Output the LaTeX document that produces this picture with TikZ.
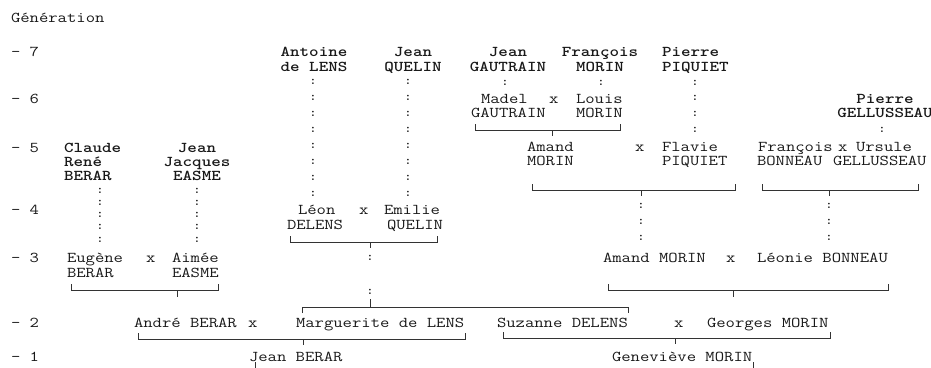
\documentclass[tikz,border=0pt]{standalone}
\usepackage{graphicx}
\newcommand\tw[1]{\scalebox{1.21}[1]{#1}}
\begin{document}
\begin{tikzpicture}[x=1pt,y=-1pt,
  t/.style={inner sep=0pt, outer sep=0pt, text=black!90, font=\fontsize{15}{15}\selectfont\ttfamily},
  tb/.style={t, font=\fontsize{15}{15}\selectfont\ttfamily\bfseries},
  dt/.style={inner sep=0pt, outer sep=0pt, text=black, font=\fontsize{12}{12}\selectfont\ttfamily\bfseries, anchor=center},
  L/.style={anchor=base west, yshift=-4.5pt},
  C/.style={anchor=base, yshift=-4.5pt},
  br/.style={draw=black!80, line width=0.9pt}]
\useasboundingbox (0,0) rectangle (931,367);
% generation labels
\node[t,L] (gen) at (11,18) {\tw{Génération}};
\node[t,L] (g7) at (11,52) {\tw{-~7}};
\node[t,L] (g6) at (11,99) {\tw{-~6}};
\node[t,L] (g5) at (11,148) {\tw{-~5}};
\node[t,L] (g4) at (11,210) {\tw{-~4}};
\node[t,L] (g3) at (11,258) {\tw{-~3}};
\node[t,L] (g2) at (11,323) {\tw{-~2}};
\node[t,L] (g1) at (11,357) {\tw{-~1}};
% generation 7
\node[tb,C] (antoine) at (314,52) {\tw{Antoine}};
\node[tb,C] (antoine2) at (314,67) {\tw{de LENS}};
\node[tb,C] (jeanq) at (413,52) {\tw{Jean}};
\node[tb,C] (jeanq2) at (413,67) {\tw{QUELIN}};
\node[tb,C] (jeang) at (508,52) {\tw{Jean}};
\node[tb,C] (jeang2) at (508,67) {\tw{GAUTRAIN}};
\node[tb,C] (francm) at (600,52) {\tw{François}};
\node[tb,C] (francm2) at (600,67) {\tw{MORIN}};
\node[tb,L] (pierrep) at (662,52) {\tw{Pierre}};
\node[tb,L] (pierrep2) at (662,67) {\tw{PIQUIET}};
% generation 6
\node[t,L] (madel) at (481,99) {\tw{Madel}};
\node[t,L] (x6) at (549,99) {\tw{x}};
\node[t,L] (louis) at (576,99) {\tw{Louis}};
\node[t,L] (madel2) at (471,113) {\tw{GAUTRAIN}};
\node[t,L] (louis2) at (576,113) {\tw{MORIN}};
\node[tb,C] (pierreg) at (885,99) {\tw{Pierre}};
\node[tb,C] (pierreg2) at (885,113) {\tw{GELLUSSEAU}};
% generation 5
\node[tb,L] (claude) at (64,148) {\tw{Claude}};
\node[tb,L] (claude2) at (64,162) {\tw{René}};
\node[tb,L] (claude3) at (64,176) {\tw{BERAR}};
\node[tb,C] (jeanj) at (197,148) {\tw{Jean}};
\node[tb,C] (jeanj2) at (197,162) {\tw{Jacques}};
\node[tb,C] (jeanj3) at (197,176) {\tw{EASME}};
\node[t,L] (amand5) at (527,147) {\tw{Amand}};
\node[t,L] (x5) at (635,147) {\tw{x}};
\node[t,L] (flavie) at (662,147) {\tw{Flavie}};
\node[t,L] (amand52) at (527,161) {\tw{MORIN}};
\node[t,L] (flavie2) at (662,161) {\tw{PIQUIET}};
\node[t,L] (francb) at (758,147) {\tw{François}};
\node[t,L] (x5b) at (838,147) {\tw{x}};
\node[t,L] (ursule) at (856,147) {\tw{Ursule}};
\node[t,L] (francb2) at (757,161) {\tw{BONNEAU}};
\node[t,L] (ursule2) at (833,161) {\tw{GELLUSSEAU}};
% generation 4
\node[t,L] (leon) at (298,210) {\tw{Léon}};
\node[t,L] (x4) at (359,210) {\tw{x}};
\node[t,L] (emilie) at (384,210) {\tw{Emilie}};
\node[t,L] (leon2) at (287,225) {\tw{DELENS}};
\node[t,L] (emilie2) at (387,225) {\tw{QUELIN}};
% generation 3
\node[t,L] (eugene) at (67,258) {\tw{Eugène}};
\node[t,L] (x3) at (146,258) {\tw{x}};
\node[t,L] (aimee) at (172,258) {\tw{Aimée}};
\node[t,L] (eugene2) at (67,272.5) {\tw{BERAR}};
\node[t,L] (aimee2) at (172,272.5) {\tw{EASME}};
\node[t,L] (amand3) at (603,258) {\tw{Amand MORIN}};
\node[t,L] (x3b) at (726,258) {\tw{x}};
\node[t,L] (leonie) at (757,258) {\tw{Léonie BONNEAU}};
% generation 2
\node[t,L] (andre) at (134,323) {\tw{André BERAR}};
\node[t,L] (x2) at (248,323) {\tw{x}};
\node[t,L] (marguerite) at (296,323) {\tw{Marguerite de LENS}};
\node[t,L] (suzanne) at (497,323) {\tw{Suzanne DELENS}};
\node[t,L] (x2b) at (674,323) {\tw{x}};
\node[t,L] (georges) at (707,323) {\tw{Georges MORIN}};
% generation 1
\node[t,L] (jeanb) at (249,357) {\tw{Jean BERAR}};
\node[t,L] (genevieve) at (612,357) {\tw{Geneviève MORIN}};
% dotted descent lines (colons)
\foreach \yy [count=\i] in {82,98,114,130,146,162,178,194} {
  \node[dt] (ca\i) at (313,\yy) {:};
  \node[dt] (cq\i) at (408,\yy) {:};
}
\node[dt] (cg1) at (505,83) {:};
\node[dt] (cm1) at (601,83) {:};
\foreach \yy [count=\i] in {83,98,114,130} \node[dt] (cp\i) at (695,\yy) {:};
\node[dt] (cgl1) at (882,130) {:};
\foreach \yy [count=\i] in {191,203,215,227,240} {
  \node[dt] (cc\i) at (100,\yy) {:};
  \node[dt] (cj\i) at (197,\yy) {:};
}
\foreach \yy [count=\i] in {206,222,238} {
  \node[dt] (cam\i) at (641,\yy) {:};
  \node[dt] (cbo\i) at (829,\yy) {:};
}
\node[dt] (cd1) at (370,258) {:};
\node[dt] (cd2) at (370,292) {:};
% brackets (couple -> child)
\coordinate (b1l) at (475,124); \coordinate (b1r) at (620,124); \coordinate (b1m) at (552,130);
\draw[br] (b1l) -- ++(0,6) -| (b1r); \draw[br] (b1m) -- ++(0,6);
\coordinate (b2l) at (532,184); \coordinate (b2r) at (735,184); \coordinate (b2m) at (641,190);
\draw[br] (b2l) -- ++(0,6) -| (b2r); \draw[br] (b2m) -- ++(0,6);
\coordinate (b3l) at (762,184); \coordinate (b3r) at (918,184); \coordinate (b3m) at (829,190);
\draw[br] (b3l) -- ++(0,6) -| (b3r); \draw[br] (b3m) -- ++(0,6);
\coordinate (b4l) at (290,236); \coordinate (b4r) at (437,236); \coordinate (b4m) at (370,242);
\draw[br] (b4l) -- ++(0,6) -| (b4r); \draw[br] (b4m) -- ++(0,6);
\coordinate (b5l) at (71,284); \coordinate (b5r) at (218,284); \coordinate (b5m) at (177,290);
\draw[br] (b5l) -- ++(0,6) -| (b5r); \draw[br] (b5m) -- ++(0,7);
\coordinate (b6l) at (608,284); \coordinate (b6r) at (888,284); \coordinate (b6m) at (733,290);
\draw[br] (b6l) -- ++(0,6) -| (b6r); \draw[br] (b6m) -- ++(0,7);
% sisters bracket
\coordinate (b7l) at (302,313); \coordinate (b7r) at (628,313); \coordinate (b7m) at (370,307);
\draw[br] (b7l) -- ++(0,-6) -| (b7r); \draw[br] (b7m) -- ++(0,-8);
\coordinate (b8l) at (138,333); \coordinate (b8r) at (465,333); \coordinate (b8m) at (303,339);
\draw[br] (b8l) -- ++(0,6) -| (b8r); \draw[br] (b8m) -- ++(0,6);
\coordinate (b9l) at (503,332); \coordinate (b9r) at (830,332); \coordinate (b9m) at (675,338);
\draw[br] (b9l) -- ++(0,6) -| (b9r); \draw[br] (b9m) -- ++(0,6);
% stubs below generation 1
\coordinate (s1) at (255,362); \coordinate (s2) at (753,362);
\draw[br] (s1) -- ++(0,6); \draw[br] (s2) -- ++(0,6);
\end{tikzpicture}
\end{document}
